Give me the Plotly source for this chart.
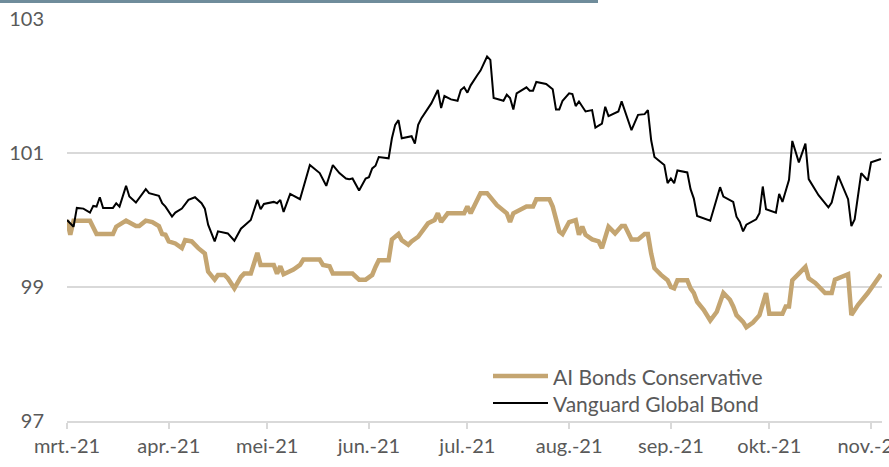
import plotly.graph_objects as go

# ---- data ----
vanguard_dates = [
    "2021-03-01", "2021-03-03", "2021-03-04", "2021-03-06", "2021-03-08", "2021-03-09",
    "2021-03-10", "2021-03-11", "2021-03-12", "2021-03-15", "2021-03-16", "2021-03-17",
    "2021-03-19", "2021-03-20", "2021-03-22", "2021-03-25", "2021-03-26", "2021-03-29",
    "2021-03-30", "2021-03-31", "2021-04-02", "2021-04-03", "2021-04-05", "2021-04-07",
    "2021-04-09", "2021-04-11", "2021-04-12", "2021-04-13", "2021-04-15", "2021-04-16",
    "2021-04-19", "2021-04-21", "2021-04-23", "2021-04-26", "2021-04-28", "2021-04-29",
    "2021-04-30", "2021-05-03", "2021-05-04", "2021-05-05", "2021-05-06", "2021-05-08",
    "2021-05-11", "2021-05-14", "2021-05-17", "2021-05-19", "2021-05-21", "2021-05-23",
    "2021-05-25", "2021-05-26", "2021-05-27", "2021-05-29", "2021-05-31", "2021-06-01",
    "2021-06-02", "2021-06-03", "2021-06-04", "2021-06-07", "2021-06-08", "2021-06-09",
    "2021-06-10", "2021-06-11", "2021-06-14", "2021-06-15", "2021-06-16", "2021-06-17",
    "2021-06-20", "2021-06-22", "2021-06-23", "2021-06-24", "2021-06-26", "2021-06-28",
    "2021-06-29", "2021-06-30", "2021-07-01", "2021-07-02", "2021-07-04", "2021-07-05",
    "2021-07-07", "2021-07-08", "2021-07-09", "2021-07-11", "2021-07-12", "2021-07-13",
    "2021-07-14", "2021-07-15", "2021-07-16", "2021-07-19", "2021-07-20", "2021-07-21",
    "2021-07-22", "2021-07-25", "2021-07-27", "2021-07-28", "2021-07-29", "2021-07-30",
    "2021-08-01", "2021-08-02", "2021-08-03", "2021-08-04", "2021-08-06", "2021-08-08",
    "2021-08-09", "2021-08-11", "2021-08-12", "2021-08-13", "2021-08-16", "2021-08-17",
    "2021-08-20", "2021-08-22", "2021-08-24", "2021-08-25", "2021-08-26", "2021-08-27",
    "2021-08-29", "2021-08-30", "2021-08-31", "2021-09-01", "2021-09-02", "2021-09-03",
    "2021-09-06", "2021-09-07", "2021-09-08", "2021-09-09", "2021-09-13", "2021-09-15",
    "2021-09-16", "2021-09-17", "2021-09-19", "2021-09-20", "2021-09-21", "2021-09-22",
    "2021-09-23", "2021-09-24", "2021-09-27", "2021-09-28", "2021-09-29", "2021-09-30",
    "2021-10-03", "2021-10-04", "2021-10-05", "2021-10-07", "2021-10-08", "2021-10-10",
    "2021-10-12", "2021-10-13", "2021-10-16", "2021-10-19", "2021-10-20", "2021-10-22",
    "2021-10-25", "2021-10-26", "2021-10-27", "2021-10-29", "2021-10-31", "2021-11-01",
    "2021-11-04",
]
vanguard_values = [
    100.00, 99.90, 100.18, 100.17, 100.11, 100.21,
    100.20, 100.34, 100.18, 100.18, 100.25, 100.20,
    100.51, 100.35, 100.26, 100.46, 100.40, 100.36,
    100.25, 100.20, 100.05, 100.11, 100.17, 100.30,
    100.34, 100.25, 100.17, 99.93, 99.68, 99.83,
    99.80, 99.69, 99.87, 100.00, 100.30, 100.16,
    100.24, 100.27, 100.25, 100.30, 100.12, 100.39,
    100.31, 100.82, 100.70, 100.51, 100.82, 100.70,
    100.62, 100.61, 100.62, 100.44, 100.62, 100.64,
    100.77, 100.81, 100.94, 100.92, 101.22, 101.42,
    101.49, 101.22, 101.25, 101.14, 101.42, 101.52,
    101.74, 101.94, 101.67, 101.85, 101.80, 101.78,
    101.94, 101.98, 101.90, 102.01, 102.16, 102.23,
    102.44, 102.39, 101.82, 101.79, 101.78, 101.87,
    101.82, 101.65, 101.89, 101.98, 101.93, 101.93,
    102.06, 102.03, 101.95, 101.65, 101.65, 101.78,
    101.89, 101.88, 101.70, 101.77, 101.62, 101.64,
    101.38, 101.44, 101.69, 101.55, 101.62, 101.77,
    101.34, 101.57, 101.58, 101.64, 101.19, 100.94,
    100.85, 100.82, 100.55, 100.62, 100.55, 100.74,
    100.71, 100.46, 100.32, 100.06, 99.99, 100.32,
    100.49, 100.35, 100.30, 100.27, 100.05, 99.97,
    99.83, 99.93, 100.01, 100.10, 100.50, 100.16,
    100.11, 100.39, 100.27, 100.60, 101.18, 100.86,
    101.14, 100.61, 100.37, 100.19, 100.26, 100.66,
    100.31, 99.91, 100.01, 100.70, 100.59, 100.86,
    100.91,
]

ai_dates = [
    "2021-03-01", "2021-03-02", "2021-03-03", "2021-03-08", "2021-03-10", "2021-03-15",
    "2021-03-16", "2021-03-19", "2021-03-22", "2021-03-23", "2021-03-25", "2021-03-27",
    "2021-03-29", "2021-03-30", "2021-03-31", "2021-04-01", "2021-04-03", "2021-04-05",
    "2021-04-06", "2021-04-08", "2021-04-10", "2021-04-12", "2021-04-13", "2021-04-15",
    "2021-04-16", "2021-04-18", "2021-04-19", "2021-04-21", "2021-04-23", "2021-04-24",
    "2021-04-26", "2021-04-27", "2021-04-28", "2021-04-29", "2021-05-03", "2021-05-04",
    "2021-05-05", "2021-05-06", "2021-05-09", "2021-05-11", "2021-05-12", "2021-05-17",
    "2021-05-18", "2021-05-20", "2021-05-21", "2021-05-27", "2021-05-29", "2021-05-31",
    "2021-06-02", "2021-06-03", "2021-06-04", "2021-06-07", "2021-06-08", "2021-06-10",
    "2021-06-11", "2021-06-13", "2021-06-14", "2021-06-16", "2021-06-18", "2021-06-19",
    "2021-06-21", "2021-06-22", "2021-06-23", "2021-06-25", "2021-06-30", "2021-07-01",
    "2021-07-02", "2021-07-05", "2021-07-07", "2021-07-10", "2021-07-13", "2021-07-14",
    "2021-07-15", "2021-07-19", "2021-07-21", "2021-07-22", "2021-07-26", "2021-07-27",
    "2021-07-29", "2021-07-30", "2021-08-01", "2021-08-03", "2021-08-04", "2021-08-05",
    "2021-08-06", "2021-08-08", "2021-08-10", "2021-08-11", "2021-08-13", "2021-08-15",
    "2021-08-17", "2021-08-18", "2021-08-20", "2021-08-22", "2021-08-24", "2021-08-25",
    "2021-08-26", "2021-08-27", "2021-08-29", "2021-08-31", "2021-09-01", "2021-09-02",
    "2021-09-03", "2021-09-06", "2021-09-07", "2021-09-08", "2021-09-09", "2021-09-11",
    "2021-09-13", "2021-09-15", "2021-09-17", "2021-09-19", "2021-09-20", "2021-09-21",
    "2021-09-23", "2021-09-24", "2021-09-26", "2021-09-28", "2021-09-30", "2021-10-01",
    "2021-10-05", "2021-10-06", "2021-10-07", "2021-10-08", "2021-10-10", "2021-10-12",
    "2021-10-13", "2021-10-15", "2021-10-18", "2021-10-20", "2021-10-21", "2021-10-25",
    "2021-10-26", "2021-10-28", "2021-10-31", "2021-11-04",
]
ai_values = [
    100.00, 99.78, 99.99, 99.99, 99.79, 99.79,
    99.90, 99.99, 99.91, 99.91, 99.99, 99.97,
    99.91, 99.79, 99.78, 99.68, 99.65, 99.58,
    99.70, 99.68, 99.58, 99.50, 99.23, 99.11,
    99.18, 99.18, 99.13, 98.98, 99.15, 99.20,
    99.20, 99.35, 99.51, 99.33, 99.33, 99.20,
    99.31, 99.19, 99.26, 99.33, 99.41, 99.41,
    99.33, 99.31, 99.20, 99.20, 99.11, 99.11,
    99.18, 99.30, 99.40, 99.40, 99.71, 99.79,
    99.70, 99.63, 99.68, 99.75, 99.90, 99.95,
    100.00, 100.10, 99.97, 100.10, 100.10, 100.20,
    100.10, 100.40, 100.40, 100.22, 100.10, 99.97,
    100.10, 100.20, 100.20, 100.31, 100.31, 100.20,
    99.83, 99.79, 99.97, 100.00, 99.78, 99.90,
    99.78, 99.71, 99.68, 99.58, 99.90, 99.80,
    99.91, 99.91, 99.71, 99.71, 99.79, 99.79,
    99.50, 99.28, 99.18, 99.10, 99.00, 98.98,
    99.10, 99.10, 98.98, 98.91, 98.78, 98.66,
    98.50, 98.63, 98.91, 98.81, 98.71, 98.58,
    98.48, 98.40, 98.47, 98.58, 98.91, 98.60,
    98.60, 98.71, 98.71, 99.10, 99.20, 99.30,
    99.13, 99.06, 98.91, 98.91, 99.11, 99.19,
    98.58, 98.73, 98.91, 99.19,
]

series_names = ["AI Bonds Conservative", "Vanguard Global Bond"]
series_colors = ["#c4a571", "#000000"]
series_widths = [4.5, 2]
y_ticks = [97, 99, 101, 103]
month_ticks = ["2021-03-01", "2021-04-01", "2021-05-01", "2021-06-01", "2021-07-01",
               "2021-08-01", "2021-09-01", "2021-10-01", "2021-11-01"]
month_labels = ["mrt.-21", "apr.-21", "mei-21", "jun.-21", "jul.-21",
                "aug.-21", "sep.-21", "okt.-21", "nov.-21"]

FONT = "Lato, 'Open Sans', sans-serif"
GREY_TXT = "#595959"
GRID = "#d9d9d9"

# plot-area geometry (px) used for decorative shapes / manual legend
L, R, T, B = 67, 7, 19, 46
PW, PH = 889 - L - R, 467 - T - B

fig = go.Figure()
for name, xs, ys, col, w in [
    (series_names[0], ai_dates, ai_values, series_colors[0], series_widths[0]),
    (series_names[1], vanguard_dates, vanguard_values, series_colors[1], series_widths[1]),
]:
    fig.add_trace(go.Scatter(x=xs, y=ys, name=name, mode="lines",
                             line=dict(color=col, width=w), showlegend=False))

# manual legend (long line samples like the original)
shapes = [dict(
    type="rect", xref="paper", yref="paper",
    x0=-L / PW, x1=(598 - L) / PW,
    y0=1 + (T - 3) / PH, y1=1 + T / PH,
    fillcolor="#6f8c9b", line=dict(width=0), layer="above",
)]
annotations = []
for i, (name, col, w) in enumerate(zip(series_names, series_colors, series_widths)):
    ypx = 376 + 27 * i
    yp = (467 - B - ypx) / PH
    shapes.append(dict(type="line", xref="paper", yref="paper",
                       x0=(493 - L) / PW, x1=(548 - L) / PW, y0=yp, y1=yp,
                       line=dict(color=col, width=w)))
    annotations.append(dict(xref="paper", yref="paper", x=(551 - L) / PW, y=yp,
                            xanchor="left", yanchor="middle", showarrow=False,
                            text=name, font=dict(size=21, color=GREY_TXT, family=FONT)))

fig.update_layout(
    width=889, height=467,
    margin=dict(l=L, r=R, t=T, b=B, autoexpand=False),
    paper_bgcolor="white", plot_bgcolor="white",
    font=dict(family=FONT, color=GREY_TXT, size=20),
    showlegend=False,
    xaxis=dict(
        type="date", automargin=False,
        range=["2021-03-01", "2021-11-04 08:00"],
        tickvals=month_ticks, ticktext=month_labels,
        showgrid=False, zeroline=False,
        showline=True, linecolor=GRID, linewidth=1.5,
        ticks="outside", ticklen=6, tickcolor=GRID, tickwidth=1.5,
        ticklabeloverflow="allow",
        tickfont=dict(size=20, color=GREY_TXT, family=FONT),
    ),
    yaxis=dict(
        range=[97, 103], automargin=False,
        tickvals=y_ticks,
        showgrid=True, gridcolor=GRID, gridwidth=1.5,
        zeroline=False, showline=False,
        ticks="", ticklabelstandoff=22,
        tickfont=dict(size=20, color=GREY_TXT, family=FONT),
    ),
    shapes=shapes,
    annotations=annotations,
)

fig.write_html("out.html", config={"displayModeBar": False},
               post_script="document.body.style.margin='0';")
